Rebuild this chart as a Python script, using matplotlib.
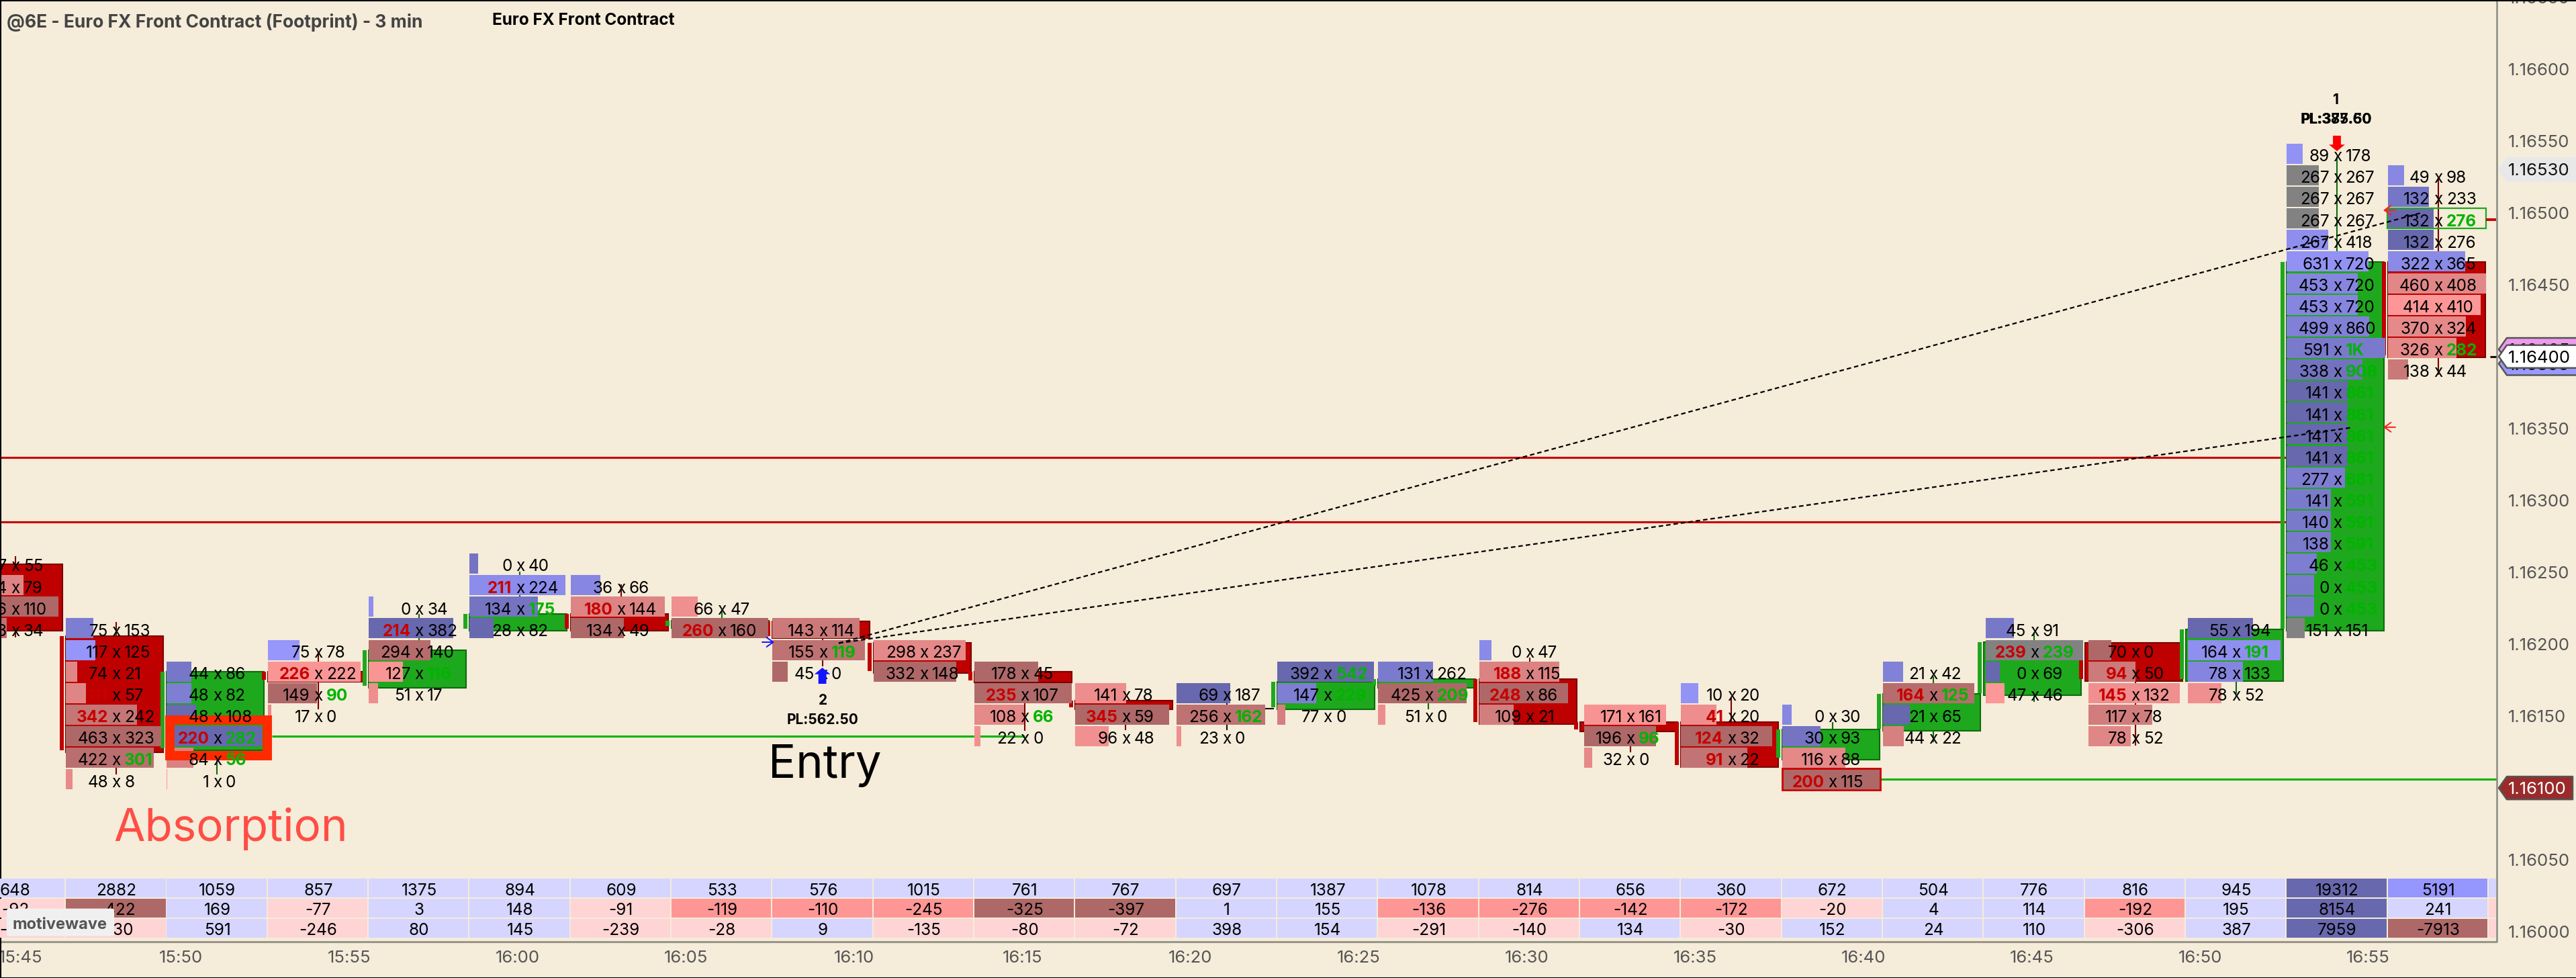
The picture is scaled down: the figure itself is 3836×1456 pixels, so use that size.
from matplotlib import pyplot as plt
from matplotlib.patches import Rectangle, FancyBboxPatch

plt.rcParams['font.family'] = ['Inter', 'DejaVu Sans']

# footprint columns, first entry is the bar cut off at the left edge
columns = list(range(-1, 24))
first_row = [19, 22, 24, 23, 21, 19, 20, 21, 22, 23, 24, 25, 25, 24, 24, 23, 26, 25, 26, 24, 22, 23, 22, 0, 1]

bids = [
    [47, 114, 196, 103],
    [75, 117, 74, 111, 342, 463, 422, 48],
    [44, 48, 48, 220, 84, 1],
    [75, 226, 149, 17],
    [0, 214, 294, 127, 51],
    [0, 211, 134, 28],
    [36, 180, 134],
    [66, 260],
    [143, 155, 45],
    [298, 332],
    [178, 235, 108, 22],
    [141, 345, 96],
    [69, 256, 23],
    [392, 147, 77],
    [131, 425, 51],
    [0, 188, 248, 109],
    [171, 196, 32],
    [10, 41, 124, 91],
    [0, 30, 116, 200],
    [21, 164, 21, 44],
    [45, 239, 0, 47],
    [70, 94, 145, 117, 78],
    [55, 164, 78, 78],
    [89, 267, 267, 267, 267, 631, 453, 453, 499, 591, 338, 141, 141, 141, 141, 277, 141, 140, 138, 46, 0, 0, 151],
    [49, 132, 132, 132, 322, 460, 414, 370, 326, 138],
]
asks = [
    [55, 79, 110, 34],
    [153, 125, 21, 57, 242, 323, 301, 8],
    [86, 82, 108, 282, 56, 0],
    [78, 222, 90, 0],
    [34, 382, 140, 116, 17],
    [40, 224, 175, 82],
    [66, 144, 49],
    [47, 160],
    [114, 119, 0],
    [237, 148],
    [45, 107, 66, 0],
    [78, 59, 48],
    [187, 162, 0],
    [542, 229, 0],
    [262, 209, 0],
    [47, 115, 86, 21],
    [161, 96, 0],
    [20, 20, 32, 22],
    [30, 93, 88, 115],
    [42, 125, 65, 22],
    [91, 239, 69, 46],
    [0, 50, 132, 78, 52],
    [194, 191, 133, 52],
    [178, 267, 267, 267, 418, 720, 720, 720, 860, 1040, 908, 861, 861, 861, 861, 681, 591, 591, 591, 453, 453, 453, 151],
    [98, 233, 276, 276, 365, 408, 410, 324, 282, 44],
]
# rows whose number is printed bold, per column
hot_bids = [[], [25, 26], [27], [24], [22], [20], [21], [22], [], [], [25], [26], [], [], [], [24, 25], [], [26, 27, 28],
            [29], [25], [23], [24, 25], [], [], []]
hot_asks = [[], [28], [27, 28], [25], [24], [21], [], [], [23], [], [26], [], [26], [24, 25], [25], [], [27], [], [],
            [25], [23], [], [23], [9, 10, 11, 12, 13, 14, 15, 16, 17, 18, 19, 20, 21], [3, 9]]

candle_top = [1.162558, 1.162057, 1.161809, 1.161809, 1.161958, 1.162208, 1.162208, 1.162162, 1.162159, 1.162009,
              1.161809, 1.161609, 1.161552, 1.161738, 1.161759, 1.161759, 1.161458, 1.161458, 1.161408, 1.161656,
              1.162014, 1.162009, 1.162104, 1.164658, 1.164658]
candle_bottom = [1.162095, 1.161246, 1.161262, 1.161738, 1.161696, 1.162095, 1.162095, 1.162112, 1.162042, 1.161799,
                 1.161734, 1.161547, 1.161552, 1.161547, 1.161696, 1.161444, 1.161393, 1.161145, 1.161197, 1.161398,
                 1.161645, 1.161743, 1.161743, 1.162093, 1.163994]
candle_side = ['r', 'r', 'g', 'r', 'g', 'g', 'r', 'g', 'r', 'r', 'r', 'r', 'd', 'g', 'g', 'r', 'r', 'r', 'g', 'g',
               'g', 'r', 'g', 'g', 'r']
wick_high = [1.162612, 1.162154, 1.161809, 1.161949, 1.162210, 1.162504, 1.162416, 1.162229, 1.162159, 1.162009,
             1.161809, 1.161612, 1.161622, 1.161738, 1.161759, 1.161907, 1.161458, 1.161626, 1.161458, 1.161776,
             1.162075, 1.162009, 1.162104, 1.165391, 1.165251]
wick_low = [1.162047, 1.161094, 1.161094, 1.161547, 1.161696, 1.162098, 1.162089, 1.162135, 1.161846, 1.161799,
            1.161398, 1.161402, 1.161402, 1.161547, 1.161547, 1.161444, 1.161248, 1.161145, 1.161145, 1.161318,
            1.161598, 1.161295, 1.161654, 1.162093, 1.163873]

# table under the chart
totals = [648, 2882, 1059, 857, 1375, 894, 609, 533, 576, 1015, 761, 767, 697, 1387, 1078, 814, 656, 360, 672, 504,
          776, 816, 945, 19312, 5191]
deltas = [-92, -422, 169, -77, 3, 148, -91, -119, -110, -245, -325, -397, 1, 155, -136, -276, -142, -172, -20, 4,
          114, -192, 195, 8154, 241]
cum_deltas = [-141, -130, 591, -246, 80, 145, -239, -28, 9, -135, -80, -72, 398, 154, -291, -140, 134, -30, 152, 24,
              110, -306, 387, 7959, -7913]

time_labels = ['15:45', '15:50', '15:55', '16:00', '16:05', '16:10', '16:15', '16:20', '16:25', '16:30', '16:35',
               '16:40', '16:45', '16:50', '16:55']
price_ticks = [1.16650, 1.16600, 1.16550, 1.16500, 1.16450, 1.16350, 1.16300, 1.16250, 1.16200, 1.16150, 1.16050,
               1.16000]

# drawing scale of the screen capture
X0 = 98.0
COL_W = 150.33
PRICE_AT_0 = 1.165
Y_AT_PRICE = 316.7
PX_PER_PRICE = 214100.0
ROW_TOP = 1.16541
ROW_STEP = 0.00015
AXIS_X = 3718

BG = '#F5ECD9'
RED = '#BE0000'
GREEN = '#1EA81E'
HOT_RED = '#C80000'
HOT_GREEN = '#00B400'
GREY_TXT = '#555555'
CELL_FONT = 17.5
AXIS_FONT = 18.5

# width of the fullest box of a column, and nudge of the boxes
box_full = [139, 142, 142, 138, 126, 143, 140, 144, 138, 137, 145, 140, 132, 144, 132, 132, 122, 136, 146, 136, 145,
            136, 138, 147, 146]
box_nudge = {15: 6, 19: 3, 20: 5, 21: 3}


def px(x):
    return (x - X0) / COL_W


def py(y):
    return PRICE_AT_0 + (Y_AT_PRICE - y) / PX_PER_PRICE


def dy(pixels):
    return pixels / PX_PER_PRICE


def row_price(k):
    return ROW_TOP - ROW_STEP * k


def mix(a, b, t):
    return tuple((a[i] + (b[i] - a[i]) * t) / 255 for i in range(3))


def box_color(bid, ask, biggest):
    if bid == ask:
        return '#828282'
    t = abs(ask - bid) / biggest
    if ask > bid:
        return mix((152, 152, 255), (104, 104, 174), t)
    return mix((255, 152, 152), (174, 104, 104), t)


fig = plt.figure(figsize=(38.36, 14.56), dpi=100, facecolor=BG)
ax = fig.add_axes([0, 0, 1, 1])
ax.set_facecolor(BG)
ax.set_xlim(px(0), px(3836))
ax.set_ylim(py(1456), py(0))
ax.axis('off')

# levels behind the bars
ax.hlines([1.1633, 1.16285], px(0), px(3482), colors=HOT_RED, linewidth=2.2, zorder=2)
ax.hlines(row_price(27), px(405), px(1526), colors=HOT_GREEN, linewidth=2.2, zorder=2)
ax.hlines(row_price(29), px(2800), px(AXIS_X), colors=HOT_GREEN, linewidth=2.2, zorder=2)

for n, col in enumerate(columns):
    center = col + 0.5
    side = candle_side[n]
    dark = {'r': '#7A0000', 'g': '#0D6B0D', 'd': '#111111'}[side]
    fill = {'r': RED, 'g': GREEN, 'd': '#111111'}[side]

    ax.vlines(center, wick_low[n], wick_high[n], colors=dark, linewidth=1.5, zorder=1)
    ax.bar(col, candle_top[n] - candle_bottom[n], bottom=candle_bottom[n], width=145 / COL_W, align='edge',
           color=fill, edgecolor=dark, linewidth=1.5, zorder=3)
    if side != 'd':
        ax.bar(col - 9 / COL_W, candle_top[n] - candle_bottom[n] - dy(3), bottom=candle_bottom[n] + dy(3),
               width=6 / COL_W, align='edge', color=fill, linewidth=0, zorder=4)

    totals_in_col = [b + a for b, a in zip(bids[n], asks[n])]
    biggest_total = max(totals_in_col)
    biggest_delta = max(abs(a - b) for b, a in zip(bids[n], asks[n]))
    left = col + box_nudge.get(col, 0) / COL_W

    for i, (bid, ask) in enumerate(zip(bids[n], asks[n])):
        k = first_row[n] + i
        price = row_price(k)
        width = totals_in_col[i] / biggest_total * box_full[n] / COL_W
        ax.barh(price, width, height=dy(30), left=left, color=box_color(bid, ask, biggest_delta), linewidth=0, zorder=5)

        base = price - dy(11.3)
        ax.text(center, base, 'x', ha='center', va='baseline', fontsize=CELL_FONT, color='black', zorder=8)
        bid_hot = k in hot_bids[n]
        ask_hot = k in hot_asks[n]
        ask_txt = '1K' if ask >= 1000 else str(ask)
        ax.text(center - 12 / COL_W, base, str(bid), ha='right', va='baseline', fontsize=CELL_FONT,
                color=HOT_RED if bid_hot else 'black', fontweight='bold' if bid_hot else 'normal', zorder=8)
        ax.text(center + 12 / COL_W, base, ask_txt, ha='left', va='baseline', fontsize=CELL_FONT,
                color=HOT_GREEN if ask_hot else 'black', fontweight='bold' if ask_hot else 'normal', zorder=8)

# highlighted cells
ax.add_patch(Rectangle((px(253), row_price(27) + dy(24)), 145 / COL_W, -dy(53), fill=False, edgecolor='#FF2A00',
                       linewidth=10, joinstyle='miter', zorder=7))
ax.add_patch(Rectangle((px(3555), row_price(3) + dy(15)), 147 / COL_W, -dy(30), fill=False, edgecolor=GREEN,
                       linewidth=1.6, zorder=9))
ax.add_patch(Rectangle((px(2654), row_price(29) + dy(16)), 146 / COL_W, -dy(32), fill=False, edgecolor=HOT_RED,
                       linewidth=2, zorder=9))

# trade lines
ax.plot([px(1249), px(3606)], [py(957.5), py(316.7)], color='black', linewidth=1.6, linestyle=(0, (3, 2)), zorder=10)
ax.plot([px(1249), px(3501)], [py(957.5), py(636.7)], color='black', linewidth=1.6, linestyle=(0, (3, 2)), zorder=10)


def arrow(x1, y1, x2, y2, color, style, lw=0):
    ax.annotate('', xy=(px(x2), py(y2)), xytext=(px(x1), py(y1)), zorder=11,
                arrowprops=dict(arrowstyle=style, color=color, linewidth=lw, shrinkA=0, shrinkB=0, mutation_scale=1))


arrow(1224.6, 1018, 1224.6, 994, '#1414FF', 'simple,head_width=17,head_length=7,tail_width=8.5')
arrow(3480, 202, 3480, 225, '#FF0000', 'simple,head_width=17,head_length=7,tail_width=8.5')
arrow(1135, 956, 1153, 956, '#1414FF', '->,head_width=5,head_length=7', 1.4)
arrow(3567, 313, 3549, 313, '#FF2020', '->,head_width=5,head_length=7', 1.4)
arrow(3567, 636, 3549, 636, '#FF2020', '->,head_width=5,head_length=7', 1.4)

ax.text(px(1225), py(1049), '2', ha='center', va='baseline', fontsize=15, fontweight='bold', zorder=11)
ax.text(px(1225), py(1078), 'PL:562.50', ha='center', va='baseline', fontsize=15, fontweight='bold', zorder=11)
ax.text(px(3479), py(155), '1', ha='center', va='baseline', fontsize=15, fontweight='bold', zorder=11)
ax.text(px(3479), py(184), 'PL:375.50', ha='center', va='baseline', fontsize=15, fontweight='bold', zorder=11)
ax.text(px(3479), py(184), 'PL:387.60', ha='center', va='baseline', fontsize=15, fontweight='bold', zorder=11)

ax.text(px(169), py(1252), 'Absorption', color='#FF4D45', fontsize=48.5, ha='left', va='baseline', zorder=11)
ax.text(px(1144), py(1157.7), 'Entry', color='black', fontsize=49.5, ha='left', va='baseline', zorder=11)

ax.text(px(10), py(41), '@6E - Euro FX Front Contract (Footprint) - 3 min', color='#444444', fontsize=19,
        fontweight='bold', ha='left', va='baseline')
ax.text(px(733), py(37), 'Euro FX Front Contract', color='black', fontsize=17.5, fontweight='bold', ha='left',
        va='baseline')

# frame and axes
ax.vlines(px(AXIS_X), py(0), py(1403), colors='#8A8A85', linewidth=1.8, zorder=12)
ax.hlines(py(1402), px(0), px(AXIS_X), colors='#9A958C', linewidth=2.2, zorder=12)
ax.vlines(px(0.5), py(0), py(1456), colors='black', linewidth=1.5, zorder=12)
ax.hlines([py(0.5), py(1455.5)], px(0), px(3836), colors='black', linewidth=1.5, zorder=12)

for tick in price_ticks:
    ax.text(px(3735), tick - dy(9), '%.5f' % tick, color=GREY_TXT, fontsize=AXIS_FONT, ha='left', va='baseline')
ax.hlines(py(327), px(3702), px(3717), colors=HOT_RED, linewidth=2.8, zorder=12)
ax.hlines(py(530.7), px(3708), px(3717), colors='#111111', linewidth=2.2, zorder=12)


def tag(price, label, face, edge, color, z, right=3845):
    y = Y_AT_PRICE + (PRICE_AT_0 - price) * PX_PER_PRICE
    xs = [3721, 3733, right, right, 3733]
    ys = [y, y - 17, y - 17, y + 17, y + 17]
    ax.fill([px(v) for v in xs], [py(v) for v in ys], facecolor=face, edgecolor=edge if edge else face, linewidth=1.8,
            zorder=z, joinstyle='round', clip_on=True)
    ax.text(px(3735), price - dy(9), label, color=color, fontsize=AXIS_FONT, ha='left', va='baseline', zorder=z)


tag(1.16530, '1.16530', '#E8E8E8', None, '#111111', 13)
tag(1.16405, '1.16405', '#EE99EE', '#555555', '#111111', 13)
tag(1.16395, '1.16395', '#9999FF', '#555555', '#111111', 14)
tag(1.16400, '1.16400', 'white', '#555555', 'black', 15)
tag(1.16100, '1.16100', '#9B2B2B', '#555555', 'white', 13, right=3831)

# the first time label is pushed inside the chart
for i, label in enumerate(time_labels):
    x = 31 if i == 0 else 269.5 + (i - 1) * 250.55
    ax.text(px(x), py(1433), label, color=GREY_TXT, fontsize=18.5, ha='center', va='baseline')

# table has its own rows, same columns as the chart
table = fig.add_axes([0, 1 - 1396.5 / 1456, 1, (1396.5 - 1307.5) / 1456])
table.set_xlim(px(0), px(3836))
table.set_ylim(3, 0)
table.axis('off')

LIGHT_BLUE = '#D5D5FF'
MID_BLUE = '#9696FF'
DARK_BLUE = '#6868AE'
LIGHT_RED = '#FFD4D4'
MID_RED = '#FF9696'
DARK_RED = '#AE6868'


def total_color(v):
    if v >= 10000:
        return DARK_BLUE
    return MID_BLUE if v >= 5000 else LIGHT_BLUE


def delta_color(v):
    if v >= 1000:
        return DARK_BLUE
    if v >= 0:
        return LIGHT_BLUE
    if v <= -300:
        return DARK_RED
    return MID_RED if v <= -100 else LIGHT_RED


def cum_color(v):
    if v >= 1000:
        return DARK_BLUE
    if v >= 0:
        return LIGHT_BLUE
    return DARK_RED if v <= -1000 else LIGHT_RED


for n, col in enumerate(columns):
    rows = [(totals[n], total_color), (deltas[n], delta_color), (cum_deltas[n], cum_color)]
    for r, (value, pick) in enumerate(rows):
        table.barh(r + 0.5, 148.5 / COL_W, height=0.94, left=col, color=pick(value), linewidth=0, zorder=1)
        table.text(col + 0.5, r + 0.5 + 10.5 / 30, str(value), ha='center', va='baseline', fontsize=CELL_FONT,
                   color='black', zorder=2)

# start of the next, still empty column
for r, color in enumerate([LIGHT_BLUE, LIGHT_RED, LIGHT_RED]):
    table.barh(r + 0.5, 11 / COL_W, height=0.94, left=px(3706), color=color, linewidth=0, zorder=1)

table.add_patch(FancyBboxPatch((px(10), 1.52), 160 / COL_W, 1.38, boxstyle='round,pad=0,rounding_size=0.03',
                               mutation_aspect=3, facecolor='#F0F0F0', edgecolor='none', zorder=3))
table.text(px(18), 2.55, 'motivewave', color='#555555', fontsize=17, fontweight='bold', ha='left', va='baseline',
           zorder=4)

fig.savefig('out.png', dpi=100, facecolor=BG)
